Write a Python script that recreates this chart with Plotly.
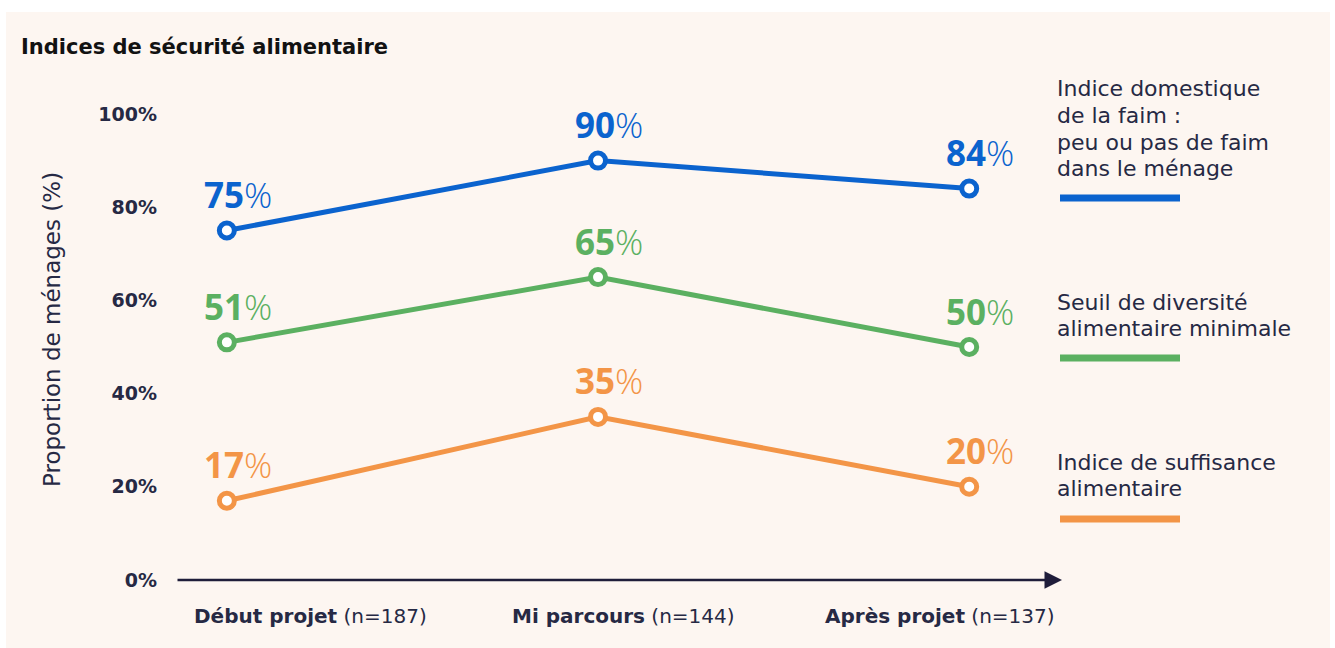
import plotly.graph_objects as go

# ---- data ----
categories = ["Début projet", "Mi parcours", "Après projet"]
sample_sizes = ["(n=187)", "(n=144)", "(n=137)"]
series_names = [
    ["Indice domestique", "de la faim :", "peu ou pas de faim", "dans le ménage"],
    ["Seuil de diversité", "alimentaire minimale"],
    ["Indice de suffisance", "alimentaire"],
]
hunger_index = [75, 90, 84]
diversity_index = [51, 65, 50]
sufficiency_index = [17, 35, 20]
y_ticks = [0, 20, 40, 60, 80, 100]
y_ticktext = [f"{v}%" for v in y_ticks]

colors = ["#0b63ce", "#5bb061", "#f39547"]
navy = "#262944"
FONT = "DejaVu Sans"
NUMFONT = "Open Sans"

# layout geometry (pixels)
W, H = 1335, 648
L, R, T, B = 176, 1062, 114, 580


def px_x(p):
    return (p - L) / (R - L)


def px_y(p):
    return (B - p) / (B - T)


x_idx = list(range(len(categories)))
fig = go.Figure()

annotations = []
all_series = [hunger_index, diversity_index, sufficiency_index]
for vals, col in zip(all_series, colors):
    fig.add_trace(go.Scatter(
        x=x_idx, y=vals, mode="lines+markers",
        line=dict(color=col, width=5),
        marker=dict(size=15, color="white", line=dict(color=col, width=5)),
        cliponaxis=False, showlegend=False, hoverinfo="skip",
    ))
    for xi, v in zip(x_idx, vals):
        annotations.append(dict(
            x=xi, y=v, xref="x", yref="y", text=f"<b>{v}</b>%",
            showarrow=False, xanchor="center", yanchor="middle",
            yshift=36, xshift=11,
            font=dict(family=NUMFONT, size=35, color=col, weight=300)))

shapes = [
    # peach panel
    dict(type="rect", xref="paper", yref="paper",
         x0=px_x(6), x1=px_x(1330), y0=px_y(648), y1=px_y(12),
         fillcolor="#fdf6f1", line=dict(width=0), layer="below"),
]

annotations += [
    dict(text="<b>Indices de sécurité alimentaire</b>", xref="paper", yref="paper",
         x=px_x(19), y=px_y(47), xanchor="left", yanchor="middle", showarrow=False,
         font=dict(family=FONT, size=21, color="#121212")),
    dict(text="Proportion de ménages (%)", xref="paper", yref="paper",
         x=px_x(52), y=px_y(330), xanchor="center", yanchor="middle", showarrow=False,
         textangle=-90, font=dict(family=FONT, size=23, color=navy)),
    # x axis arrow
    dict(x=2.25, y=0, ax=-0.137, ay=0, xref="x", yref="y", axref="x", ayref="y",
         text="", showarrow=True, arrowhead=2, arrowsize=1.4, arrowwidth=2.5,
         arrowcolor="#1f1d3a"),
]

label_shift = [84, 25, -29]
for i, (c, n) in enumerate(zip(categories, sample_sizes)):
    annotations.append(dict(
        text=f"<b>{c}</b> {n}", x=i, y=0, xref="x", yref="y",
        xanchor="center", yanchor="middle", yshift=-36, xshift=label_shift[i],
        showarrow=False, font=dict(family=FONT, size=20, color=navy)))

legend_tops = [89, 302, 462]
legend_lines = [198, 358, 519]
for lines, top, ly, col in zip(series_names, legend_tops, legend_lines, colors):
    for k, line in enumerate(lines):
        annotations.append(dict(
            text=line, xref="paper", yref="paper", x=px_x(1055),
            y=px_y(top + 26.6 * k), xanchor="left", yanchor="middle",
            showarrow=False, font=dict(family=FONT, size=22, color=navy)))
    shapes.append(dict(type="line", xref="paper", yref="paper",
                       x0=px_x(1060), x1=px_x(1180), y0=px_y(ly), y1=px_y(ly),
                       line=dict(color=col, width=7)))

fig.update_layout(
    width=W, height=H,
    margin=dict(l=L, r=W - R, t=T, b=H - B, pad=0),
    paper_bgcolor="white", plot_bgcolor="rgba(0,0,0,0)",
    xaxis=dict(range=[-0.137, 2.25], showgrid=False, zeroline=False,
               showticklabels=False, showline=False, fixedrange=True),
    yaxis=dict(range=[0, 100], tickvals=y_ticks, ticktext=y_ticktext,
               showgrid=False, zeroline=False, showline=False,
               ticklabelstandoff=18,
               tickfont=dict(family=FONT, size=19, color=navy, weight="bold"),
               fixedrange=True),
    shapes=shapes, annotations=annotations,
)

fig.write_html("out.html", config={"displayModeBar": False},
               post_script="document.body.style.margin='0px';")
